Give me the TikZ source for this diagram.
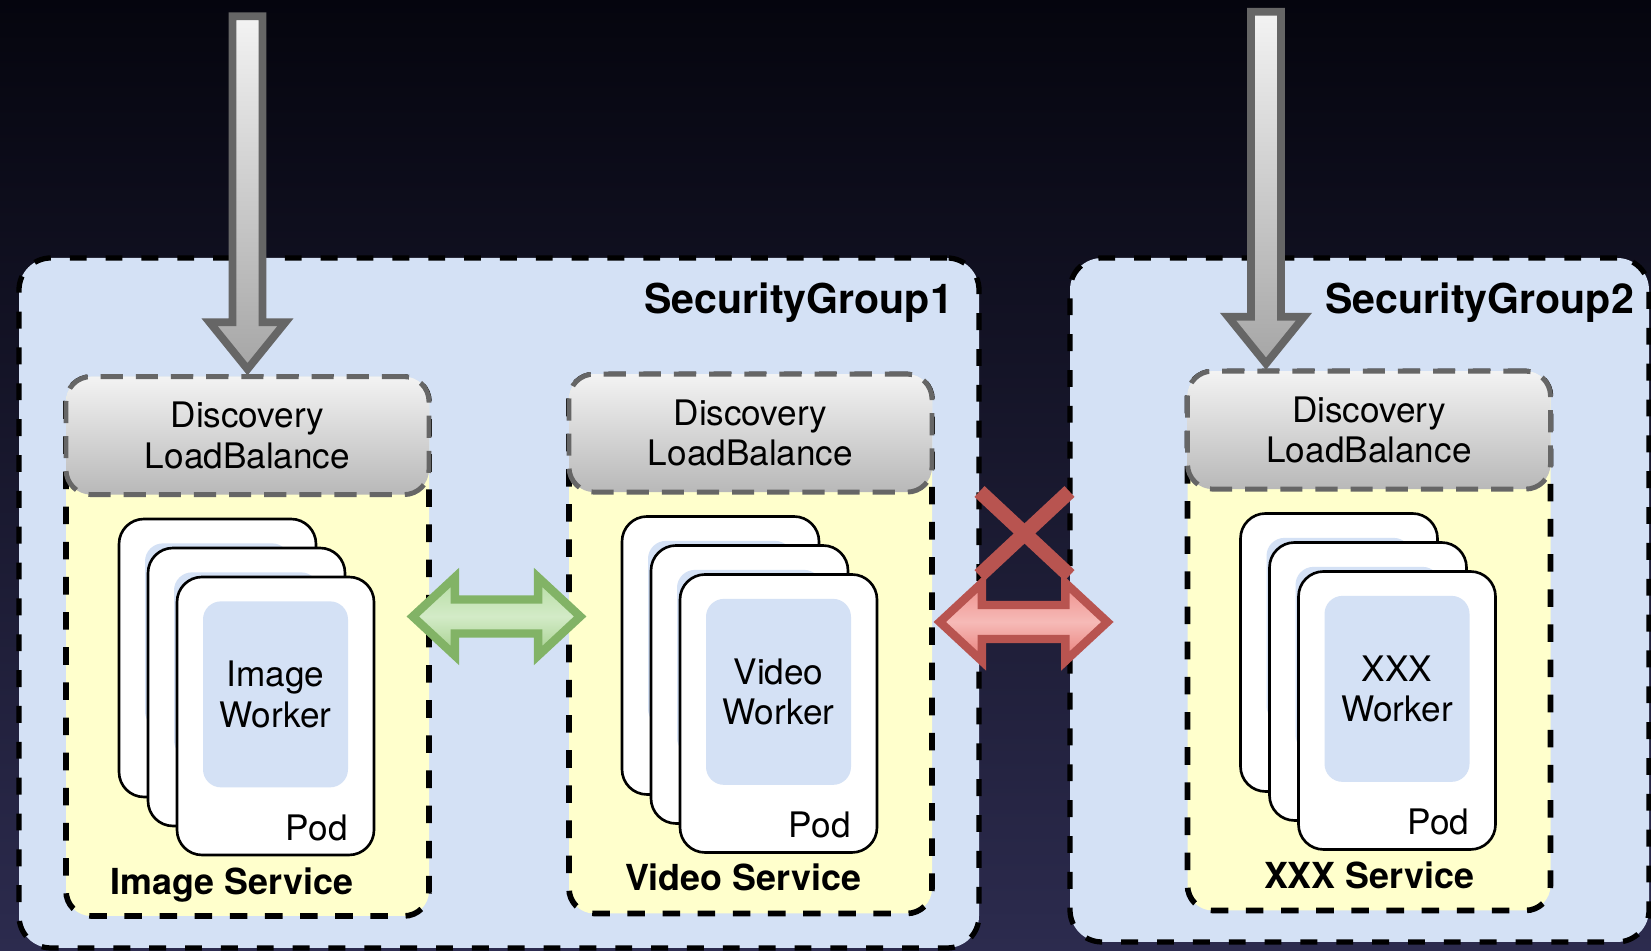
\documentclass[tikz,border=0pt]{standalone}
\usepackage{fontspec}
\setmainfont{TeX Gyre Heros}
\usetikzlibrary{positioning,calc}

\definecolor{bgtop}{RGB}{5,5,14}
\definecolor{bgbot}{RGB}{44,43,78}
\definecolor{sgblue}{HTML}{D4E1F5}
\definecolor{svcyellow}{HTML}{FFFFCC}
\definecolor{hdrtop}{HTML}{F3F3F3}
\definecolor{hdrbot}{HTML}{B8B8B8}
\definecolor{hdrline}{HTML}{666666}
\definecolor{okline}{HTML}{82B366}
\definecolor{oktop}{HTML}{B5DCA2}
\definecolor{okmid}{HTML}{D3EBC7}
\definecolor{okbot}{HTML}{A3CF8C}
\definecolor{noline}{HTML}{B85450}
\definecolor{notop}{HTML}{EE8F8B}
\definecolor{nomid}{HTML}{F6BAB7}
\definecolor{nobot}{HTML}{E87B76}

\begin{document}
\begin{tikzpicture}
\tikzstyle{secgroup} = [rectangle, rounded corners=0.32cm, draw=black, line width=1.5pt, dash pattern=on 4.8pt off 5.4pt, fill=sgblue, inner sep=0pt]
\tikzstyle{service} = [rectangle, rounded corners=0.25cm, minimum width=3.63cm, minimum height=5.39cm, draw=black, line width=1.6pt, dash pattern=on 5pt off 5pt, fill=svcyellow]
\tikzstyle{discovery} = [rectangle, rounded corners=0.25cm, minimum width=3.63cm, minimum height=1.18cm, draw=hdrline, line width=1.4pt, dash pattern=on 6.3pt off 3.7pt, top color=hdrtop, bottom color=hdrbot, align=center, anchor=north, font=\fontsize{10}{11.5}\selectfont]
\tikzstyle{pod} = [rectangle, rounded corners=0.25cm, minimum width=1.97cm, minimum height=2.78cm, draw=black, line width=0.75pt, fill=white]
\tikzstyle{worker} = [rectangle, rounded corners=0.18cm, minimum width=1.45cm, minimum height=1.86cm, fill=sgblue, align=center, anchor=north, font=\fontsize{10}{11.5}\selectfont]
\tikzstyle{podlabel} = [anchor=base east, inner sep=0pt, font=\fontsize{10}{11.5}\selectfont]
\tikzstyle{svclabel} = [anchor=base, inner sep=0pt, font=\bfseries\fontsize{10.2}{12}\selectfont]
\tikzstyle{sglabel} = [anchor=east, inner sep=0pt, font=\bfseries\fontsize{11.7}{14}\selectfont]
\tikzstyle{grayarrow} = [draw=hdrline, line width=2.2pt, top color=hdrtop, bottom color=hdrbot!90!black]
\tikzstyle{okarrow} = [draw=okline, line width=2.4pt, top color=oktop, bottom color=okbot, middle color=okmid]
\tikzstyle{noarrow} = [draw=noline, line width=2.4pt, top color=notop, bottom color=nobot, middle color=nomid]
\tikzstyle{cross} = [draw=noline, line width=4.2pt]

\useasboundingbox (0,0) rectangle (16.51,9.51);
\fill[top color=bgtop, bottom color=bgbot] (0,0) rectangle (16.51,9.51);

\node[secgroup, minimum width=9.60cm, minimum height=6.90cm] (sg1) at (4.99,3.48) {};
\node[secgroup, minimum width=5.79cm, minimum height=6.84cm] (sg2) at (13.595,3.51) {};
\node[sglabel] at ([xshift=-0.28cm,yshift=-0.47cm]sg1.north east) {SecurityGroup1};
\node[sglabel] at ([xshift=-0.17cm,yshift=-0.47cm]sg2.north east) {SecurityGroup2};

\node[service] (isvc) at (2.475,3.045) {};
\node[service] (vsvc) at (7.505,3.07) {};
\node[service] (xsvc) at (13.69,3.10) {};
\node[discovery] (ihdr) at (isvc.north) {Discovery\\LoadBalance};
\node[discovery] (vhdr) at (vsvc.north) {Discovery\\LoadBalance};
\node[discovery] (xhdr) at (xsvc.north) {Discovery\\LoadBalance};

\node[pod] (ipod1) at ([xshift=-0.30cm,yshift=-0.115cm]isvc.center) {};
\node[worker] at ([yshift=-0.25cm]ipod1.north) {};
\node[pod] (ipod2) at ([xshift=-0.01cm,yshift=-0.405cm]isvc.center) {};
\node[worker] at ([yshift=-0.25cm]ipod2.north) {};
\node[pod] (ipod3) at ([xshift=0.28cm,yshift=-0.695cm]isvc.center) {};
\node[worker] (iwrk) at ([yshift=-0.25cm]ipod3.north) {Image\\Worker};
\node[podlabel] at ([xshift=-0.27cm,yshift=0.16cm]ipod3.south east) {Pod};
\node[svclabel] at ([xshift=-0.155cm,yshift=0.245cm]isvc.south) {Image Service};

\node[pod] (vpod1) at ([xshift=-0.30cm,yshift=-0.115cm]vsvc.center) {};
\node[worker] at ([yshift=-0.25cm]vpod1.north) {};
\node[pod] (vpod2) at ([xshift=-0.01cm,yshift=-0.405cm]vsvc.center) {};
\node[worker] at ([yshift=-0.25cm]vpod2.north) {};
\node[pod] (vpod3) at ([xshift=0.28cm,yshift=-0.695cm]vsvc.center) {};
\node[worker] (vwrk) at ([yshift=-0.25cm]vpod3.north) {Video\\Worker};
\node[podlabel] at ([xshift=-0.27cm,yshift=0.16cm]vpod3.south east) {Pod};
\node[svclabel] at ([xshift=-0.075cm,yshift=0.255cm]vsvc.south) {Video Service};

\node[pod] (xpod1) at ([xshift=-0.30cm,yshift=-0.115cm]xsvc.center) {};
\node[worker] at ([yshift=-0.25cm]xpod1.north) {};
\node[pod] (xpod2) at ([xshift=-0.01cm,yshift=-0.405cm]xsvc.center) {};
\node[worker] at ([yshift=-0.25cm]xpod2.north) {};
\node[pod] (xpod3) at ([xshift=0.28cm,yshift=-0.695cm]xsvc.center) {};
\node[worker] (xwrk) at ([yshift=-0.25cm]xpod3.north) {XXX\\Worker};
\node[podlabel] at ([xshift=-0.27cm,yshift=0.16cm]xpod3.south east) {Pod};
\node[svclabel] at ([yshift=0.245cm]xsvc.south) {XXX Service};

% requests coming in
\coordinate (tip1) at ([yshift=0.05cm]ihdr.north);
\coordinate (in1) at ([yshift=3.58cm]ihdr.north);
\coordinate (tip2) at ([xshift=-1.03cm,yshift=0.05cm]xhdr.north);
\coordinate (in2) at ([xshift=-1.03cm,yshift=3.57cm]xhdr.north);
\draw[grayarrow] ($(in1)+(-0.15,0)$) -- ($(tip1)+(-0.15,0.47)$) -- ($(tip1)+(-0.38,0.47)$) -- (tip1) -- ($(tip1)+(0.38,0.47)$) -- ($(tip1)+(0.15,0.47)$) -- ($(in1)+(0.15,0)$) -- cycle;
\draw[grayarrow] ($(in2)+(-0.15,0)$) -- ($(tip2)+(-0.15,0.47)$) -- ($(tip2)+(-0.38,0.47)$) -- (tip2) -- ($(tip2)+(0.38,0.47)$) -- ($(tip2)+(0.15,0.47)$) -- ($(in2)+(0.15,0)$) -- cycle;

% allowed and blocked traffic
\coordinate (g1) at ([xshift=-0.19cm,yshift=0.30cm]isvc.east);
\coordinate (g2) at ($(vsvc.west |- g1)+(0.14,0)$);
\draw[okarrow] (g1) -- ($(g1)+(0.42,0.39)$) -- ($(g1)+(0.42,0.17)$) -- ($(g2)+(-0.42,0.17)$) -- ($(g2)+(-0.42,0.39)$) -- (g2) -- ($(g2)+(-0.42,-0.39)$) -- ($(g2)+(-0.42,-0.17)$) -- ($(g1)+(0.42,-0.17)$) -- ($(g1)+(0.42,-0.39)$) -- cycle;
\coordinate (r1) at ([xshift=0.05cm,yshift=0.22cm]vsvc.east);
\coordinate (r2) at ($(sg2.west |- r1)+(0.40,0)$);
\draw[noarrow] (r1) -- ($(r1)+(0.42,0.39)$) -- ($(r1)+(0.42,0.17)$) -- ($(r2)+(-0.42,0.17)$) -- ($(r2)+(-0.42,0.39)$) -- (r2) -- ($(r2)+(-0.42,-0.39)$) -- ($(r2)+(-0.42,-0.17)$) -- ($(r1)+(0.42,-0.17)$) -- ($(r1)+(0.42,-0.39)$) -- cycle;
\coordinate (x0) at ($(sg1.east)!0.5!(sg2.west)+(0,0.68)$);
\draw[cross] ($(x0)+(-0.45,0.42)$) -- ($(x0)+(0.45,-0.42)$);
\draw[cross] ($(x0)+(0.45,0.42)$) -- ($(x0)+(-0.45,-0.42)$);
\end{tikzpicture}
\end{document}
